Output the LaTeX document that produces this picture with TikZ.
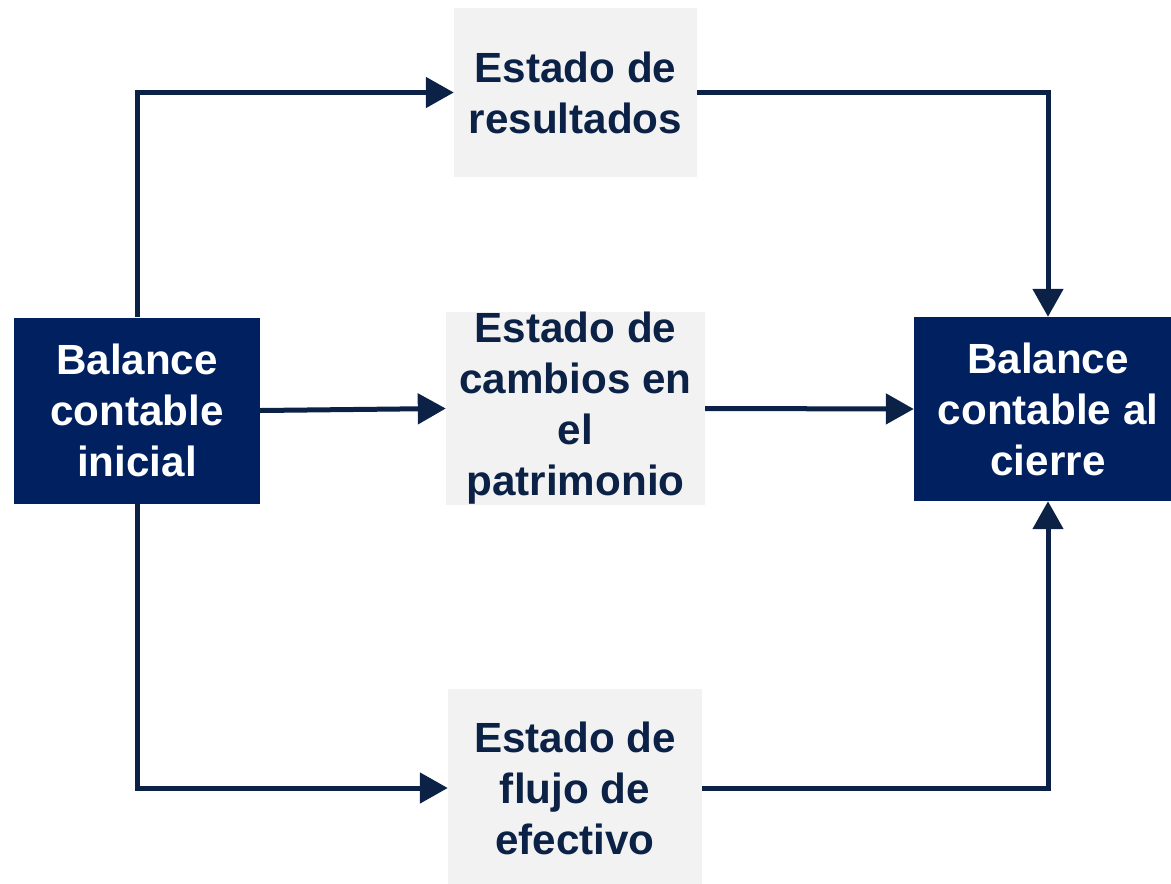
\documentclass[tikz,border=0pt]{standalone}
\usepackage{fontspec}
\setmainfont{Liberation Sans}
\usetikzlibrary{arrows.meta}
\definecolor{navy}{HTML}{002060}
\definecolor{ink}{HTML}{0B2145}
\definecolor{pale}{HTML}{F2F2F2}
\begin{document}
\begin{tikzpicture}[x=1pt,y=-1pt,
  lbl/.style={font=\fontsize{42.2}{51}\selectfont\bfseries, align=center, inner sep=0pt},
  darkbox/.style={lbl, fill=navy, text=white},
  lightbox/.style={lbl, fill=pale, text=ink},
  link/.style={draw=ink, line width=5pt, -{Triangle[length=28pt,width=30pt]}}]
\useasboundingbox (0,0) rectangle (1171,884);
\clip (0,0) rectangle (1171,884);
\node[darkbox, minimum width=246pt, minimum height=186pt] (L) at (137,410.5) {Balance\\contable\\inicial};
\node[darkbox, minimum width=268pt, minimum height=184pt] (R) at (1048,409) {Balance\\contable al\\cierre};
\node[lightbox, minimum width=243pt, minimum height=169pt] (T) at (575.5,92.5) {Estado de\\resultados};
\node[lightbox, minimum width=259pt, minimum height=191pt] (M) at (575.5,408.5) {Estado de\\cambios en\\el\\patrimonio};
\node[lightbox, minimum width=254pt, minimum height=198pt] (B) at (575,788) {Estado de\\flujo de\\efectivo};
\draw[link] (L.north) |- (T.west);
\draw[link] (L.east) -- (M.west);
\draw[link] (L.south) |- (B.west);
\draw[link] (T.east) -| (R.north);
\draw[link] (M.east) -- (R.west);
\draw[link] (B.east) -| (R.south);
\end{tikzpicture}
\end{document}
